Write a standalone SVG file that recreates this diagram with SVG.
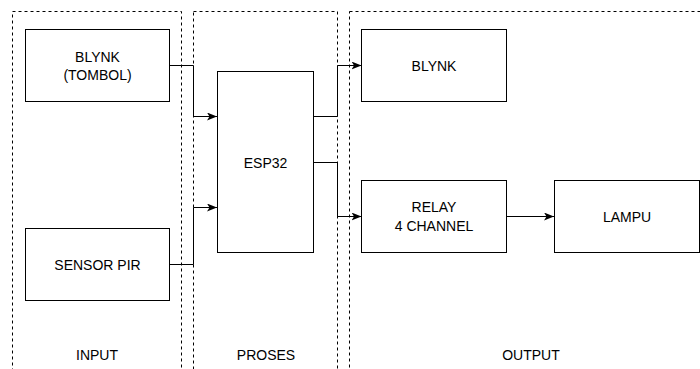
<svg xmlns="http://www.w3.org/2000/svg" width="700" height="369" viewBox="0 0 700 369">
<style>
.lane{fill:none;stroke:#000;stroke-width:1;stroke-dasharray:3 3}
.box{fill:#fff;stroke:#000;stroke-width:1}
.t{font-family:"Liberation Sans",Arial,sans-serif;font-size:14px;fill:#000;text-anchor:middle}
.c{fill:none;stroke:#000;stroke-width:1}
</style>
<defs>
<marker id="arr" viewBox="0 0 10 8" refX="10" refY="4" markerWidth="10" markerHeight="8" markerUnits="userSpaceOnUse" orient="auto">
<path d="M0,0 L10,4 L0,8 L2.5,4 Z" fill="#000"/>
</marker>
</defs>
<rect fill="#fff" x="0" y="0" width="700" height="369"/>
<g id="lane-input"><rect class="lane" x="12.5" y="11.5" width="169" height="380"/><text class="t" x="97" y="360">INPUT</text></g>
<g id="lane-proses"><rect class="lane" x="193.5" y="11.5" width="144" height="380"/><text class="t" x="266" y="360">PROSES</text></g>
<g id="lane-output"><rect class="lane" x="349.5" y="11.5" width="380" height="380"/><text class="t" x="531" y="360">OUTPUT</text></g>
<g id="connectors">
<path class="c" d="M169.5,65.5 H193.5 V116.5 H217" marker-end="url(#arr)"/>
<path class="c" d="M169.5,264.5 H193.5 V207.5 H217" marker-end="url(#arr)"/>
<path class="c" d="M313.5,116.5 H337.5 V65.5 H361.5" marker-end="url(#arr)"/>
<path class="c" d="M313.5,162.5 H337.5 V216.5 H361.5" marker-end="url(#arr)"/>
<path class="c" d="M506.5,216.5 H554" marker-end="url(#arr)"/>
</g>
<g id="blynk-tombol"><rect class="box" x="25.5" y="29.5" width="144" height="72"/><text class="t" x="97.5" y="62">BLYNK</text><text class="t" x="97.5" y="80">(TOMBOL)</text></g>
<g id="sensor-pir"><rect class="box" x="25.5" y="228.5" width="144" height="72"/><text class="t" x="97.5" y="269.5">SENSOR PIR</text></g>
<g id="esp32"><rect class="box" x="217.5" y="71.5" width="96" height="181"/><text class="t" x="265.5" y="167.5">ESP32</text></g>
<g id="blynk-out"><rect class="box" x="361.5" y="29.5" width="145" height="72"/><text class="t" x="434" y="70.5">BLYNK</text></g>
<g id="relay"><rect class="box" x="361.5" y="180.5" width="145" height="72"/><text class="t" x="434" y="212">RELAY</text><text class="t" x="434" y="230.5">4 CHANNEL</text></g>
<g id="lampu"><rect class="box" x="554.5" y="180.5" width="145" height="72"/><text class="t" x="627" y="221.5">LAMPU</text></g>
</svg>
